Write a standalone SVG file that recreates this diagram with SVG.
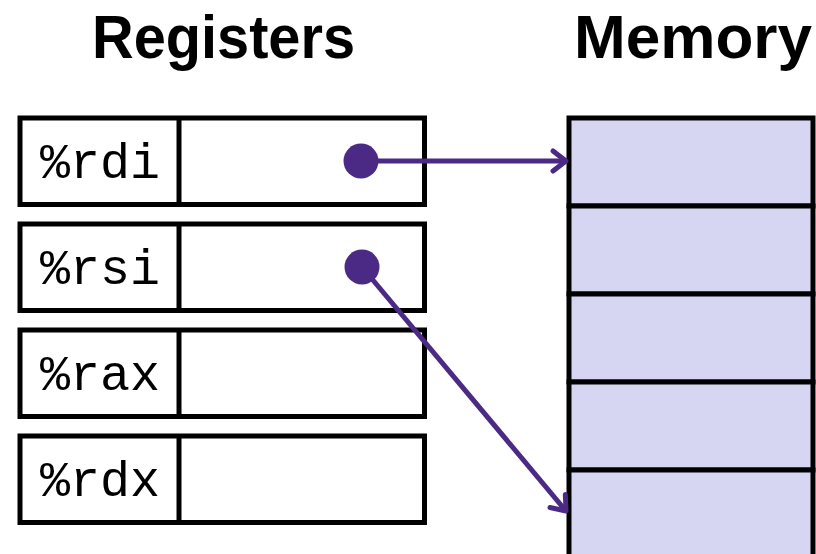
<svg xmlns="http://www.w3.org/2000/svg" width="816" height="554" viewBox="0 0 816 554">
  <style>
    .title { font-family: "Liberation Sans", Arial, sans-serif; font-weight: bold; font-size: 61px; fill: #000; }
    .reg { fill: #fff; stroke: #000; stroke-width: 5; }
    .div { stroke: #000; stroke-width: 5; }
    .lbl { font-family: "Liberation Mono", "Courier New", monospace; font-size: 50px; fill: #000; }
    .mem { fill: #d6d6f3; stroke: #000; stroke-width: 5; }
    .ptr { stroke: #4b2a85; stroke-width: 5; fill: none; }
    .dot { fill: #4b2a85; }
  </style>
  <defs>
    <marker id="arrow" markerUnits="userSpaceOnUse" markerWidth="20" markerHeight="24" refX="16" refY="12" orient="auto" overflow="visible">
      <path d="M3,2 L16,12 L3,22" fill="none" stroke="#4b2a85" stroke-width="5" stroke-linecap="round" stroke-linejoin="round"/>
    </marker>
  </defs>

  <text class="title" x="92" y="58" textLength="263" lengthAdjust="spacingAndGlyphs">Registers</text>
  <text class="title" x="574" y="58" textLength="238" lengthAdjust="spacingAndGlyphs">Memory</text>

  <g id="reg-rdi">
    <rect class="reg" x="20" y="118" width="404.5" height="86.5"/>
    <line class="div" x1="179" y1="118" x2="179" y2="204.5"/>
    <text class="lbl" x="40" y="178">%rdi</text>
  </g>
  <g id="reg-rsi">
    <rect class="reg" x="20" y="224" width="404.5" height="86.5"/>
    <line class="div" x1="179" y1="224" x2="179" y2="310.5"/>
    <text class="lbl" x="40" y="284">%rsi</text>
  </g>
  <g id="reg-rax">
    <rect class="reg" x="20" y="330" width="404.5" height="86.5"/>
    <line class="div" x1="179" y1="330" x2="179" y2="416.5"/>
    <text class="lbl" x="40" y="390">%rax</text>
  </g>
  <g id="reg-rdx">
    <rect class="reg" x="20" y="436" width="404.5" height="86.5"/>
    <line class="div" x1="179" y1="436" x2="179" y2="522.5"/>
    <text class="lbl" x="40" y="496">%rdx</text>
  </g>

  <g id="memory">
    <rect class="mem" x="569" y="118" width="244" height="88"/>
    <rect class="mem" x="569" y="206" width="244" height="88"/>
    <rect class="mem" x="569" y="294" width="244" height="88"/>
    <rect class="mem" x="569" y="382" width="244" height="88"/>
    <rect class="mem" x="569" y="470" width="244" height="88"/>
  </g>

  <g id="connectors">
    <line class="ptr" x1="361" y1="161" x2="566" y2="161" marker-end="url(#arrow)"/>
    <line class="ptr" x1="362" y1="267" x2="566" y2="511" marker-end="url(#arrow)"/>
    <circle class="dot" cx="361" cy="161" r="17.5"/>
    <circle class="dot" cx="362" cy="267" r="17.5"/>
  </g>
</svg>
